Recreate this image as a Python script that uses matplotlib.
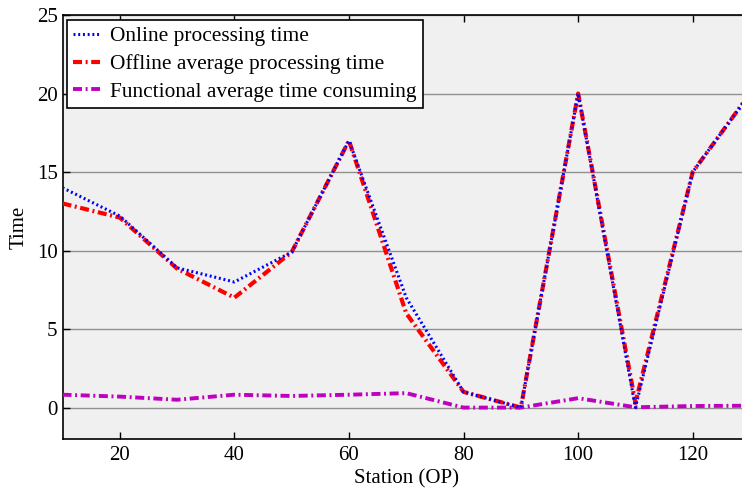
import numpy as np
import matplotlib
matplotlib.use('Agg')
import matplotlib.pyplot as plt

# data
station = [10, 20, 30, 40, 50, 60, 70, 80, 90, 100, 110, 120, 130]
online = [14.0, 12.2, 8.9, 8.0, 9.9, 17.0, 7.0, 1.0, 0.0, 20.0, 0.0, 15.0, 20.0]
offline = [13.0, 12.1, 8.85, 7.0, 9.9, 17.0, 6.0, 1.0, 0.0, 20.0, 0.3, 15.0, 20.0]
functional = [0.82, 0.7, 0.5, 0.82, 0.74, 0.82, 0.92, 0.0, 0.0, 0.6, 0.02, 0.1, 0.12]

xticks = [20, 40, 60, 80, 100, 120]
yticks = [0, 5, 10, 15, 20, 25]

plt.rcParams['font.family'] = ['Liberation Serif', 'DejaVu Serif']
plt.rcParams['font.size'] = 15
plt.rcParams['lines.scale_dashes'] = False

fig = plt.figure(figsize=(7.42, 4.92), dpi=100)
# right edge of the axes runs off the canvas like in the reference
ax = fig.add_axes([62.5 / 742, 53 / 492, 687.5 / 742, 424 / 492])
ax.set_facecolor('#f0f0f0')

l1, = ax.plot(station, online, color='#0000ff', linewidth=2.2, zorder=4,
              dashes=(1.4, 2.0), label='Online processing time')
l2, = ax.plot(station, offline, color='#ff0000', linewidth=3.0, zorder=3,
              dashes=(6.5, 2.6, 1.4, 2.6), label='Offline average processing time')
l3, = ax.plot(station, functional, color='#bf00bf', linewidth=2.8, zorder=3,
              dashes=(6.5, 2.6, 1.4, 2.6), label='Functional average time consuming')

ax.set_xlim(10, 130)
ax.set_ylim(-2, 25)
ax.set_xticks(xticks)
ax.set_yticks(yticks)
ax.yaxis.grid(True, color='#909090', linewidth=1.0)
ax.set_axisbelow(True)
ax.tick_params(direction='in', top=True, right=True, length=5, width=1)
ax.tick_params(axis='x', pad=5)
ax.tick_params(axis='y', pad=3.5)
for s in ax.spines.values():
    s.set_linewidth(1.2)

ax.set_xlabel('Station (OP)', labelpad=3)
ax.set_ylabel('Time', labelpad=6)

leg = ax.legend(handles=[l1, l2, l3], loc='upper left', bbox_to_anchor=(0.006, 0.988),
                borderaxespad=0, fancybox=False, framealpha=1, edgecolor='black',
                handlelength=1.25, handletextpad=0.5, borderpad=0.3, labelspacing=0.36,
                fontsize=15.4)
leg.get_frame().set_linewidth(1.2)

fig.savefig('out.png', dpi=100)
